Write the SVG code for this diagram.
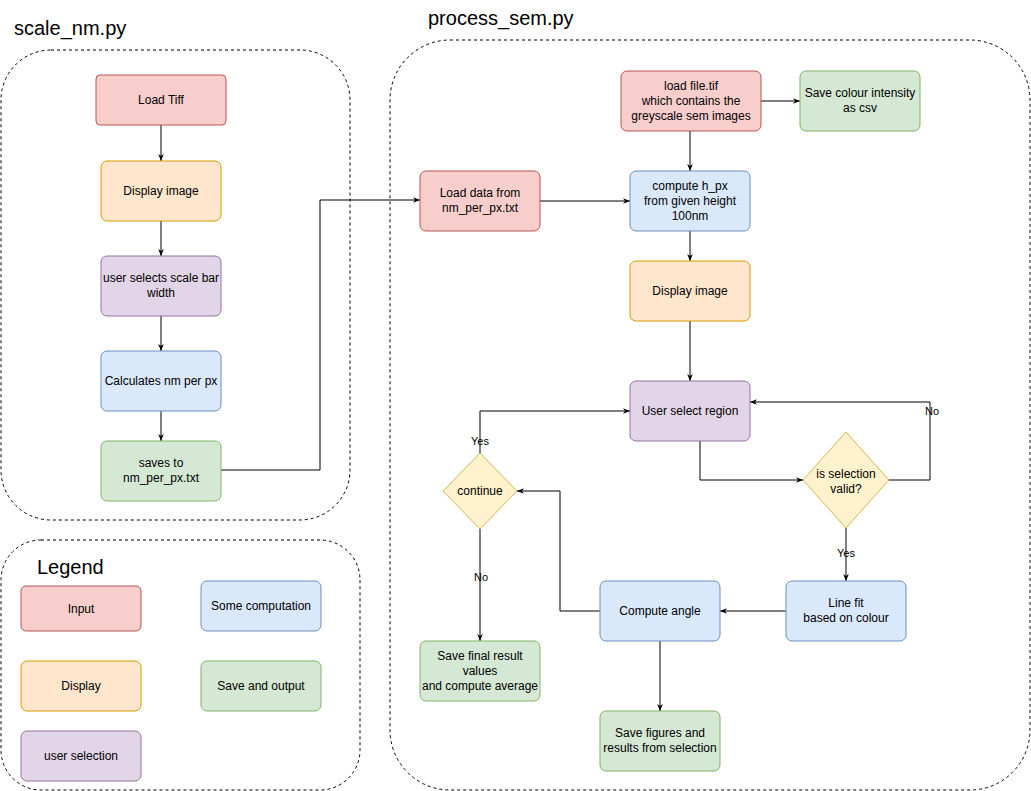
<svg xmlns="http://www.w3.org/2000/svg" width="1031" height="791" viewBox="0 0 1031 791">
<style>
text{font-family:"Liberation Sans",Arial,sans-serif;font-size:12px;fill:#000;text-anchor:middle}
.t{font-size:20px;text-anchor:start}
.c{fill:none;stroke:#000;stroke-dasharray:3,3}
.r{fill:#f8cecc;stroke:#b85450}.o{fill:#ffe6cc;stroke:#d79b00}.p{fill:#e1d5e7;stroke:#9673a6}
.b{fill:#dae8fc;stroke:#6c8ebf}.g{fill:#d5e8d4;stroke:#82b366}.y{fill:#fff2cc;stroke:#d6b656}
.e{fill:none;stroke:#000;marker-end:url(#a)}
.l{font-size:11px}
</style>
<defs><marker id="a" viewBox="0 0 10 10" refX="10" refY="5" markerWidth="7" markerHeight="7" orient="auto"><path d="M0,1 L10,5 L0,9 L3,5Z" fill="#000"/></marker></defs>
<rect width="1031" height="791" fill="#fff"/>
<g id="containers">
<rect class="c" x="1" y="50" width="349" height="470" rx="50"/>
<rect class="c" x="390" y="40" width="640" height="750" rx="60"/>
<rect class="c" x="1" y="540" width="359" height="250" rx="40"/>
<text class="t" x="14" y="35">scale_nm.py</text>
<text class="t" x="428" y="25">process_sem.py</text>
<text class="t" x="37" y="574">Legend</text>
</g>
<g id="connectors">
<path class="e" d="M161,125V161"/><path class="e" d="M161,221V256"/><path class="e" d="M161,316V351"/><path class="e" d="M161,411V441"/>
<path class="e" d="M221,470H320V200H420"/>
<path class="e" d="M690,131V171"/><path class="e" d="M761,101H800"/><path class="e" d="M540,201H630"/>
<path class="e" d="M690,231V261"/><path class="e" d="M690,321V381"/>
<path class="e" d="M700,441V480H803"/>
<path class="e" d="M889,480H930V402H750"/><text class="l" x="932" y="415">No</text>
<path class="e" d="M846,528V581"/><text class="l" x="846" y="557" style="fill:#000">Yes</text>
<path class="e" d="M786,611H720"/>
<path class="e" d="M600,611H560V491H517"/>
<path class="e" d="M660,641V711"/>
<path class="e" d="M480,453V411H630"/><text class="l" x="480" y="445">Yes</text>
<path class="e" d="M480,529V641"/><text class="l" x="481" y="581">No</text>
</g>
<g id="n1"><rect class="r" x="96" y="75" width="130" height="50" rx="4"/><text x="161" y="104">Load Tiff</text></g>
<g id="n2"><rect class="o" x="101" y="161" width="120" height="60" rx="6"/><text x="161" y="195">Display image</text></g>
<g id="n3"><rect class="p" x="101" y="256" width="120" height="60" rx="6"/><text x="161" y="282">user selects scale bar</text><text x="161" y="297">width</text></g>
<g id="n4"><rect class="b" x="101" y="351" width="120" height="60" rx="6"/><text x="161" y="385">Calculates nm per px</text></g>
<g id="n5"><rect class="g" x="101" y="441" width="120" height="60" rx="6"/><text x="161" y="467">saves to</text><text x="161" y="482">nm_per_px.txt</text></g>
<g id="n6"><rect class="r" x="420" y="171" width="120" height="60" rx="6"/><text x="480" y="197">Load data from</text><text x="480" y="212">nm_per_px.txt</text></g>
<g id="n7"><rect class="r" x="621" y="71" width="140" height="60" rx="6"/><text x="691" y="90">load file.tif</text><text x="691" y="105">which contains the</text><text x="691" y="120">greyscale sem images</text></g>
<g id="n8"><rect class="g" x="800" y="71" width="120" height="60" rx="6"/><text x="860" y="97">Save colour intensity</text><text x="860" y="112">as csv</text></g>
<g id="n9"><rect class="b" x="630" y="171" width="120" height="60" rx="6"/><text x="690" y="190">compute h_px</text><text x="690" y="205">from given height</text><text x="690" y="220">100nm</text></g>
<g id="n10"><rect class="o" x="630" y="261" width="120" height="60" rx="6"/><text x="690" y="295">Display image</text></g>
<g id="n11"><rect class="p" x="630" y="381" width="120" height="60" rx="6"/><text x="690" y="415">User select region</text></g>
<g id="n12"><path class="y" d="M846,432L889,480L846,528L803,480Z" stroke-linejoin="round"/><text x="846" y="478">is selection</text><text x="846" y="493">valid?</text></g>
<g id="n13"><path class="y" d="M480,453L517,491L480,529L443,491Z" stroke-linejoin="round"/><text x="480" y="495">continue</text></g>
<g id="n14"><rect class="b" x="786" y="581" width="120" height="60" rx="6"/><text x="846" y="607">Line fit</text><text x="846" y="622">based on colour</text></g>
<g id="n15"><rect class="b" x="600" y="581" width="120" height="60" rx="6"/><text x="660" y="615">Compute angle</text></g>
<g id="n16"><rect class="g" x="420" y="641" width="120" height="60" rx="6"/><text x="480" y="660">Save final result</text><text x="480" y="675">values</text><text x="480" y="690">and compute average</text></g>
<g id="n17"><rect class="g" x="600" y="711" width="120" height="60" rx="6"/><text x="660" y="737">Save figures and</text><text x="660" y="752">results from selection</text></g>
<g id="legend">
<rect class="r" x="21" y="586" width="120" height="45" rx="5"/><text x="81" y="613">Input</text>
<rect class="o" x="21" y="661" width="120" height="50" rx="6"/><text x="81" y="690">Display</text>
<rect class="p" x="21" y="731" width="120" height="50" rx="6"/><text x="81" y="760">user selection</text>
<rect class="b" x="201" y="581" width="120" height="50" rx="6"/><text x="261" y="610">Some computation</text>
<rect class="g" x="201" y="661" width="120" height="50" rx="6"/><text x="261" y="690">Save and output</text>
</g>
</svg>
